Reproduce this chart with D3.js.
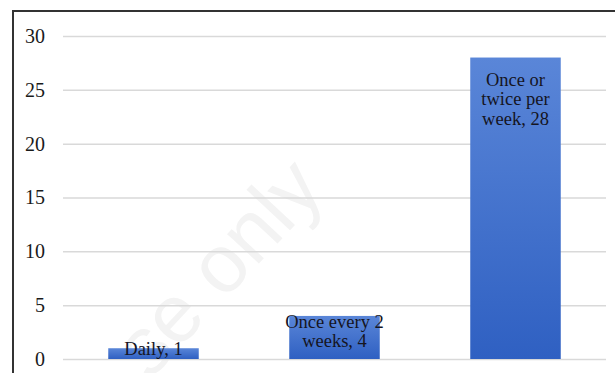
<!DOCTYPE html>
<html>
<head>
<meta charset="utf-8">
<script src="https://cdn.jsdelivr.net/npm/d3@7"></script>
<style>
  html, body { margin: 0; padding: 0; background: #ffffff; }
  svg { display: block; }
</style>
</head>
<body>
<svg id="chart" width="615" height="373"></svg>
<script>
// Frequency categories and respondent counts
const categories = ["Daily", "Once every 2 weeks", "Once or twice per week"];
const counts = [1, 4, 28];
// Data label lines shown for each bar
const labelLines = [
  ["Daily, 1"],
  ["Once every 2", "weeks, 4"],
  ["Once or", "twice per", "week, 28"]
];
const yTicks = [0, 5, 10, 15, 20, 25, 30];

const svg = d3.select("#chart");
const W = 615, H = 373;
const plot = { left: 63, right: 606, top: 36, bottom: 359 };
const font = "'Liberation Serif', 'Times New Roman', serif";

// Bar gradient, lighter at the top
const defs = svg.append("defs");
const grad = defs.append("linearGradient")
  .attr("id", "barFill").attr("x1", 0).attr("y1", 0).attr("x2", 0).attr("y2", 1);
grad.append("stop").attr("offset", "0%").attr("stop-color", "#5a86d8");
grad.append("stop").attr("offset", "100%").attr("stop-color", "#2f60c2");

const x = d3.scaleBand()
  .domain(categories)
  .range([plot.left, plot.right])
  .paddingInner(0.5)
  .paddingOuter(0.25);

const y = d3.scaleLinear()
  .domain([0, 30])
  .range([plot.bottom, plot.top]);

// Faint diagonal watermark text
svg.append("text")
  .attr("transform", "translate(238,286) rotate(-47)")
  .attr("text-anchor", "middle")
  .attr("font-family", "'Liberation Sans', Arial, sans-serif")
  .attr("font-size", 82)
  .attr("fill", "#f3f3f3")
  .text("se only");

// Outer frame (left and top edges visible)
svg.append("path")
  .attr("d", `M13,${H} L13,11 L${W},11`)
  .attr("fill", "none")
  .attr("stroke", "#333")
  .attr("stroke-width", 2);

// Horizontal gridlines and tick labels via a left axis
const yAxis = d3.axisLeft(y)
  .tickValues(yTicks)
  .tickSize(-(plot.right - plot.left))
  .tickPadding(18)
  .tickFormat(d3.format("d"));

const gy = svg.append("g")
  .attr("transform", `translate(${plot.left},0)`)
  .call(yAxis);
gy.select(".domain").remove();
gy.selectAll(".tick line")
  .attr("stroke", "#d9d9d9")
  .attr("stroke-width", 1.5);
gy.selectAll(".tick text")
  .attr("font-family", font)
  .attr("font-size", 20)
  .attr("fill", "#1a1a1a");

// Bars
svg.append("g").selectAll("rect")
  .data(categories)
  .join("rect")
  .attr("x", d => x(d))
  .attr("width", x.bandwidth())
  .attr("y", (d, i) => y(counts[i]))
  .attr("height", (d, i) => y(0) - y(counts[i]))
  .attr("fill", "url(#barFill)");

// Data labels: offset of the first baseline from each bar's top
const lineH = 19.5;
const firstOffset = [7, 12, 28];
const labels = svg.append("g")
  .attr("font-family", font)
  .attr("font-size", 18.5)
  .attr("fill", "#15151f")
  .attr("text-anchor", "middle");

categories.forEach((c, i) => {
  const cx = x(c) + x.bandwidth() / 2;
  const base = y(counts[i]) + firstOffset[i];
  const t = labels.append("text");
  labelLines[i].forEach((ln, k) => {
    t.append("tspan")
      .attr("x", cx)
      .attr("y", base + k * lineH)
      .text(ln);
  });
});
</script>
</body>
</html>
